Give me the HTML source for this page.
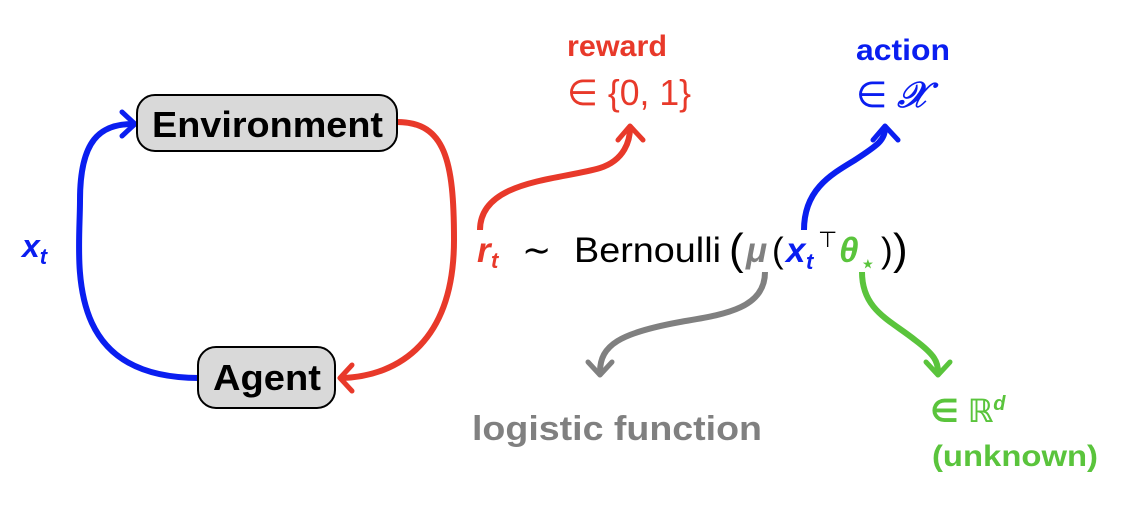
<!DOCTYPE html>
<html><head><meta charset="utf-8"><style>
html,body{margin:0;padding:0;background:#fff;width:1126px;height:524px;overflow:hidden}
text{font-family:"Liberation Sans","DejaVu Sans",sans-serif}
</style></head><body>
<svg width="1126" height="524" viewBox="0 0 1126 524">
<!-- loop arrows -->
<path d="M199,378 C60,378 80,260 80,200 C80,140 100,124 133,124" fill="none" stroke="#0a1ef0" stroke-width="6"/>
<path d="M122,112 L135,124 L122,136" fill="none" stroke="#0a1ef0" stroke-width="5" stroke-linecap="round" stroke-linejoin="round"/>
<path d="M397,122 C445,122 454,160 454,240 C454,340 400,376 342,378" fill="none" stroke="#e8392a" stroke-width="6"/>
<path d="M352,365 L340,378 L352,391" fill="none" stroke="#e8392a" stroke-width="5" stroke-linecap="round" stroke-linejoin="round"/>
<!-- boxes -->
<g>
<rect x="137" y="95" width="260" height="56" rx="18" fill="#d9d9d9" stroke="#000" stroke-width="2"/>
<text x="152" y="137" font-size="36" font-weight="bold" textLength="231" lengthAdjust="spacingAndGlyphs">Environment</text></g>
<g>
<rect x="198" y="347" width="137" height="61" rx="18" fill="#d9d9d9" stroke="#000" stroke-width="2"/>
<text x="213" y="390" font-size="36" font-weight="bold" textLength="108" lengthAdjust="spacingAndGlyphs">Agent</text></g>
<text x="22" y="257" font-size="32" font-weight="bold" font-style="italic" fill="#0a1ef0">x<tspan font-size="22" dy="7">t</tspan></text>
<!-- equation -->
<g font-size="35">
<text x="477" y="262" fill="#e8392a" font-weight="bold" font-style="italic">r</text>
<text x="491" y="268" fill="#e8392a" font-weight="bold" font-style="italic" font-size="22">t</text>
<text x="522" y="262">∼</text>
<text x="574" y="262" textLength="147" lengthAdjust="spacingAndGlyphs">Bernoulli</text>
<text x="729" y="264" font-size="44">(</text>
<text x="746" y="262" fill="#808080" font-style="italic" font-weight="bold">μ</text>
<text x="772" y="262">(</text>
<text x="786" y="262" fill="#0a1ef0" font-weight="bold" font-style="italic">x</text>
<text x="806" y="269" fill="#0a1ef0" font-weight="bold" font-style="italic" font-size="22">t</text>
<text x="818" y="247" font-size="22">⊤</text>
<text x="839" y="262" fill="#5ac43c" font-style="italic" font-weight="bold">θ</text>
<text x="861" y="271" fill="#5ac43c" font-size="22" font-weight="bold">⋆</text>
<text x="881" y="262">)</text>
<text x="893" y="264" font-size="44">)</text>
</g>
<!-- annotation arrows -->
<path d="M480,230 C480,180 560,180 600,168 C625,160 630,140 630,128" fill="none" stroke="#e8392a" stroke-width="6"/>
<path d="M618,140 L630,126 L643,140" fill="none" stroke="#e8392a" stroke-width="5" stroke-linecap="round" stroke-linejoin="round"/>
<path d="M804,230 C804,190 830,175 855,160 C878,145 885,140 885,128" fill="none" stroke="#0a1ef0" stroke-width="6"/>
<path d="M873,140 L885,126 L898,140" fill="none" stroke="#0a1ef0" stroke-width="5" stroke-linecap="round" stroke-linejoin="round"/>
<path d="M765,272 C765,310 720,315 680,322 C620,333 600,345 600,372" fill="none" stroke="#808080" stroke-width="6"/>
<path d="M588,362 L600,375 L612,362" fill="none" stroke="#808080" stroke-width="5" stroke-linecap="round" stroke-linejoin="round"/>
<path d="M862,272 C862,310 890,320 915,340 C935,355 938,362 938,372" fill="none" stroke="#5ac43c" stroke-width="6"/>
<path d="M926,362 L938,375 L950,362" fill="none" stroke="#5ac43c" stroke-width="5" stroke-linecap="round" stroke-linejoin="round"/>
<!-- labels -->
<text x="567" y="56" font-size="30" font-weight="bold" fill="#e8392a" textLength="100" lengthAdjust="spacingAndGlyphs">reward</text>
<text x="567" y="105" font-size="36" fill="#e8392a" textLength="124" lengthAdjust="spacingAndGlyphs">∈ {0, 1}</text>
<text x="856" y="60" font-size="30" font-weight="bold" fill="#0a1ef0" textLength="94" lengthAdjust="spacingAndGlyphs">action</text>
<text x="856" y="107" font-size="36" fill="#0a1ef0">∈ <tspan font-style="italic" font-weight="bold">𝒳</tspan></text>
<text x="472" y="440" font-size="34" font-weight="bold" fill="#808080" textLength="290" lengthAdjust="spacingAndGlyphs">logistic function</text>
<text x="930" y="422" font-size="32" font-weight="bold" fill="#5ac43c">∈ ℝ<tspan font-size="20" dy="-12" font-style="italic">d</tspan></text>
<text x="932" y="466" font-size="30" font-weight="bold" fill="#5ac43c" textLength="166" lengthAdjust="spacingAndGlyphs">(unknown)</text>
</svg>
</body></html>
